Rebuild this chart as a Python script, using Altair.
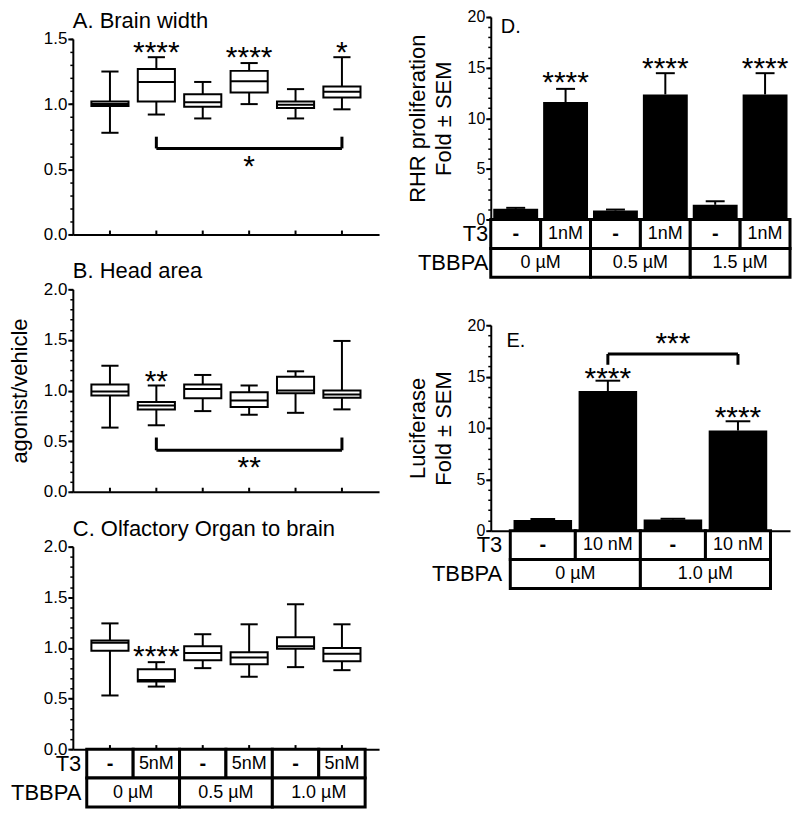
import altair as alt
import pandas as pd

FONT = "Liberation Sans"

# ---------------- categories / table labels ----------------
box_groups = [1, 2, 3, 4, 5, 6]
t3_left = ["-", "5nM", "-", "5nM", "-", "5nM"]
tbbpa_left = ["0 µM", "0.5 µM", "1.0 µM"]

bar_groups_d = [1, 2, 3, 4, 5, 6]
t3_d = ["-", "1nM", "-", "1nM", "-", "1nM"]
tbbpa_d = ["0 µM", "0.5 µM", "1.5 µM"]

bar_groups_e = [1, 2, 3, 4]
t3_e = ["-", "10 nM", "-", "10 nM"]
tbbpa_e = ["0 µM", "1.0 µM"]

# ---------------- A. Brain width ----------------
a_lo = [0.78, 0.92, 0.89, 1.00, 0.89, 0.96]
a_q1 = [0.985, 1.02, 0.98, 1.09, 0.97, 1.05]
a_med = [1.00, 1.17, 1.015, 1.175, 0.995, 1.095]
a_q3 = [1.02, 1.27, 1.075, 1.255, 1.02, 1.135]
a_hi = [1.25, 1.36, 1.17, 1.315, 1.115, 1.36]
a_star_x = [2, 4, 6]
a_star_y = [1.325, 1.283, 1.32]
a_star_t = ["****", "****", "*"]
a_bracket = {"x1": [2], "x2": [6], "y": [0.66], "ye": [0.75], "ty": [0.446], "tx": [4], "t": ["*"]}
a_major = [0.0, 0.5, 1.0, 1.5]
a_minor = [round(i * 0.1, 1) for i in range(16)]

# ---------------- B. Head area ----------------
b_lo = [0.634, 0.657, 0.797, 0.761, 0.78, 0.814]
b_q1 = [0.95, 0.814, 0.925, 0.837, 0.974, 0.928]
b_med = [0.99, 0.853, 1.016, 0.902, 1.0, 0.96]
b_q3 = [1.06, 0.886, 1.06, 0.984, 1.137, 1.0]
b_hi = [1.245, 1.05, 1.154, 1.05, 1.19, 1.49]
b_star_x = [2]
b_star_y = [1.0]
b_star_t = ["**"]
b_bracket = {"x1": [2], "x2": [6], "y": [0.41], "ye": [0.536], "ty": [0.15], "tx": [4], "t": ["**"]}
bc_major = [0.0, 0.5, 1.0, 1.5, 2.0]
bc_minor = [round(i * 0.1, 1) for i in range(21)]

# ---------------- C. Olfactory organ to brain ----------------
c_lo = [0.53, 0.618, 0.80, 0.715, 0.81, 0.78]
c_q1 = [0.972, 0.667, 0.878, 0.839, 0.992, 0.868]
c_med = [1.05, 0.683, 0.95, 0.904, 1.015, 0.943]
c_q3 = [1.073, 0.79, 1.015, 0.956, 1.106, 1.0]
c_hi = [1.242, 0.859, 1.135, 1.233, 1.431, 1.233]
c_star_x = [2]
c_star_y = [0.82]
c_star_t = ["****"]

# ---------------- D. RHR proliferation ----------------
d_mean = [1.05, 11.6, 0.88, 12.35, 1.45, 12.35]
d_top = [1.15, 12.9, 0.98, 14.45, 1.8, 14.45]
d_star_x = [2, 4, 6]
d_star_y = [12.55, 13.95, 13.95]
d_star_t = ["****", "****", "****"]

# ---------------- E. Luciferase ----------------
e_mean = [1.04, 13.6, 1.08, 9.74]
e_top = [1.14, 14.6, 1.16, 10.65]
e_star_x = [2, 4]
e_star_y = [13.85, 10.05]
e_star_t = ["****", "****"]
e_bracket = {"x1": [2], "x2": [4], "y": [17.2], "ye": [16.15], "ty": [17.3], "tx": [3], "t": ["***"]}

de_major = [0, 5, 10, 15, 20]
de_minor = list(range(21))

XDOM6 = [0.2, 6.8]
XDOMD = [0.5, 6.5]
XDOME = [0.2, 4.8]


def X(field, dom):
    return alt.X(field, type="quantitative", scale=alt.Scale(domain=dom, nice=False, zero=False),
                 axis=alt.Axis(labels=False, ticks=False, grid=False, title=None, domain=True,
                               domainColor="black", domainWidth=2))


def make_Y(dom, rng, major, fmt, title, lsize, tpad):
    def Y(field):
        return alt.Y(field, type="quantitative",
                     scale=alt.Scale(domain=dom, range=rng, nice=False, zero=False),
                     axis=alt.Axis(values=major, format=fmt, title=title, orient="left", grid=False,
                                   tickSize=5, tickWidth=2, tickColor="black", domainColor="black",
                                   domainWidth=2, labelFontSize=lsize, labelColor="black", labelFont=FONT,
                                   labelPadding=1, titleFontSize=22, titleFont=FONT,
                                   titleFontWeight="normal", titleColor="black", titlePadding=tpad,
                                   titleLineHeight=26))
    return Y


def minor_layer(dom, rng, vals):
    df = pd.DataFrame({"v": vals})
    return alt.Chart(df).mark_point(opacity=0).encode(
        y=alt.Y("v:Q", scale=alt.Scale(domain=dom, range=rng, nice=False, zero=False),
                axis=alt.Axis(values=vals, labels=False, domain=False, ticks=True, tickSize=3,
                              tickWidth=1.5, tickColor="black", grid=False, title=None, orient="left")))


def table_layer(groups, t3, tb, H, TH, xdom, label_pad):
    rows = []
    for g, lab in zip(groups, t3):
        rows.append({"row": "T3", "x0": g - 0.5, "x1": g + 0.5, "xc": g, "label": lab,
                     "dash": lab == "-"})
    for k, lab in enumerate(tb):
        g0, g1 = groups[2 * k], groups[2 * k + 1]
        rows.append({"row": "TBBPA", "x0": g0 - 0.5, "x1": g1 + 0.5, "xc": (g0 + g1) / 2,
                     "label": lab, "dash": False})
    df = pd.DataFrame(rows)
    ydef = alt.Y("row:N", scale=alt.Scale(domain=["T3", "TBBPA"], range=[H, H + TH],
                                          paddingInner=0, paddingOuter=0),
                 axis=alt.Axis(orient="left", title=None, domain=False, ticks=False, labelFontSize=22,
                               labelPadding=label_pad, labelColor="black", labelFont=FONT,
                               labelAlign="right", labelBaseline="middle"))
    base = alt.Chart(df)
    cells = base.mark_rect(fill="white", stroke="black", strokeWidth=3).encode(
        x=X("x0", xdom), x2="x1:Q", y=ydef)
    txt = base.transform_filter("!datum.dash").mark_text(fontSize=18, font=FONT, color="black").encode(
        x=X("xc", xdom), y=ydef, text="label:N")
    dash = base.transform_filter("datum.dash").mark_text(fontSize=20, font=FONT, fontWeight="bold",
                                                          color="black").encode(
        x=X("xc", xdom), y=ydef, text="label:N")
    return alt.layer(cells, txt, dash)


def bracket_layers(br, xdom, Y):
    df = pd.DataFrame(br)
    base = alt.Chart(df)
    h = base.mark_rule(color="black", strokeWidth=3).encode(x=X("x1", xdom), x2="x2:Q", y=Y("y"))
    l = base.mark_rule(color="black", strokeWidth=3).encode(x=X("x1", xdom), y=Y("y"), y2="ye:Q")
    r = base.mark_rule(color="black", strokeWidth=3).encode(x=X("x2", xdom), y=Y("y"), y2="ye:Q")
    t = base.mark_text(fontSize=30, font=FONT, baseline="alphabetic", color="black").encode(
        x=X("tx", xdom), y=Y("ty"), text="t:N")
    return [h, l, r, t]


def star_layer(xs, ys, ts, xdom, Y):
    df = pd.DataFrame({"x": xs, "y": ys, "t": ts})
    return alt.Chart(df).mark_text(fontSize=30, font=FONT, baseline="alphabetic", color="black").encode(
        x=X("x", xdom), y=Y("y"), text="t:N")


def box_panel(title, lo, q1, med, q3, hi, ymax, major, minor, ytitle, stars, bracket, tick_len, W, H,
              table=False):
    dom = [0, ymax]
    rng = [H, 0]
    Y = make_Y(dom, rng, major, ".1f", ytitle, 17, 12)
    df = pd.DataFrame({"pos": box_groups, "lo": lo, "q1": q1, "med": med, "q3": q3, "hi": hi})
    base = alt.Chart(df).transform_calculate(
        xl="datum.pos - 0.4", xr="datum.pos + 0.4", cl="datum.pos - 0.185", cr="datum.pos + 0.185",
        t0="0", t1=str(tick_len))
    whisk = base.mark_rule(color="black", strokeWidth=2).encode(x=X("pos", XDOM6), y=Y("lo"), y2="hi:Q")
    box = base.mark_rect(fill="white", stroke="black", strokeWidth=2).encode(
        x=X("xl", XDOM6), x2="xr:Q", y=Y("q1"), y2="q3:Q")
    medl = base.mark_rule(color="black", strokeWidth=2).encode(x=X("xl", XDOM6), x2="xr:Q", y=Y("med"))
    cap_lo = base.mark_rule(color="black", strokeWidth=2).encode(x=X("cl", XDOM6), x2="cr:Q", y=Y("lo"))
    cap_hi = base.mark_rule(color="black", strokeWidth=2).encode(x=X("cl", XDOM6), x2="cr:Q", y=Y("hi"))
    xt = base.mark_rule(color="black", strokeWidth=2).encode(x=X("pos", XDOM6), y=Y("t0"), y2="t1:Q")
    layers = [whisk, box, medl, cap_lo, cap_hi, xt, star_layer(*stars, XDOM6, Y)]
    if bracket is not None:
        layers += bracket_layers(bracket, XDOM6, Y)
    group = alt.layer(*layers)
    outer = [group, minor_layer(dom, rng, minor)]
    if table:
        outer.append(table_layer(box_groups, t3_left, tbbpa_left, H, 58, XDOM6, -8))
    return alt.layer(*outer).resolve_scale(y="independent").properties(
        width=W, height=H,
        title=alt.TitleParams(title, anchor="start", frame="group", fontSize=22, font=FONT,
                              fontWeight="normal", color="black", offset=-3))


def bar_panel(label, label_dx, label_y, groups, mean, top, xdom, ytitle, stars, bracket, t3, tb,
              label_pad, W, H, lift):
    dom = [0, 20]
    rng = [H, -lift]
    Y = make_Y(dom, rng, de_major, "d", ytitle, 16, 12)
    df = pd.DataFrame({"pos": groups, "m": mean, "top": top})
    base = alt.Chart(df).transform_calculate(
        xl="datum.pos - 0.45", xr="datum.pos + 0.45", cl="datum.pos - 0.19", cr="datum.pos + 0.19",
        z="0")
    bars = base.mark_rect(fill="black").encode(x=X("xl", xdom), x2="xr:Q", y=Y("m"), y2="z:Q")
    err = base.mark_rule(color="black", strokeWidth=2).encode(x=X("pos", xdom), y=Y("m"), y2="top:Q")
    cap = base.mark_rule(color="black", strokeWidth=2).encode(x=X("cl", xdom), x2="cr:Q", y=Y("top"))
    lab_df = pd.DataFrame({"x": [xdom[0] + label_dx], "y": [label_y], "t": [label]})
    lab = alt.Chart(lab_df).mark_text(fontSize=20, font=FONT, align="left", baseline="alphabetic",
                                      color="black").encode(x=X("x", xdom), y=Y("y"), text="t:N")
    layers = [bars, err, cap, star_layer(*stars, xdom, Y), lab]
    if bracket is not None:
        layers += bracket_layers(bracket, xdom, Y)
    group = alt.layer(*layers)
    tbl = table_layer(groups, t3, tb, H, 58, xdom, label_pad)
    return alt.layer(group, minor_layer(dom, rng, de_minor), tbl).resolve_scale(y="independent").properties(
        width=W, height=H)


LW, RW = 307, 300

A = box_panel("A. Brain width", a_lo, a_q1, a_med, a_q3, a_hi, 1.5, a_major, a_minor, None,
              (a_star_x, a_star_y, a_star_t), a_bracket, 0.03, LW, 196)
B = box_panel("B. Head area", b_lo, b_q1, b_med, b_q3, b_hi, 2.0, bc_major, bc_minor, "agonist/vehicle",
              (b_star_x, b_star_y, b_star_t), b_bracket, 0.04, LW, 203)
C = box_panel("C. Olfactory Organ to brain", c_lo, c_q1, c_med, c_q3, c_hi, 2.0, bc_major, bc_minor, None,
              (c_star_x, c_star_y, c_star_t), None, 0.04, LW, 203, table=True)

D = bar_panel("D.", 0.2, 18.45, bar_groups_d, d_mean, d_top, XDOMD, ["RHR proliferation", "Fold ± SEM"],
              (d_star_x, d_star_y, d_star_t), None, t3_d, tbbpa_d, 3, RW, 181, 22)
E = bar_panel("E.", 0.24, 17.86, bar_groups_e, e_mean, e_top, XDOME, ["Luciferase", "Fold ± SEM"],
              (e_star_x, e_star_y, e_star_t), e_bracket, t3_e, tbbpa_e, -11, RW, 206, 0)

left = alt.vconcat(A, B, C, spacing=18)
right = alt.vconcat(D, E, spacing=38)

chart = alt.concat(left, right, columns=2, align="none", spacing=27).properties(
    padding=0, background="white"
).configure_view(strokeWidth=0).configure_text(font=FONT)

chart.save("out.html", embed_options={"renderer": "svg", "actions": False})
